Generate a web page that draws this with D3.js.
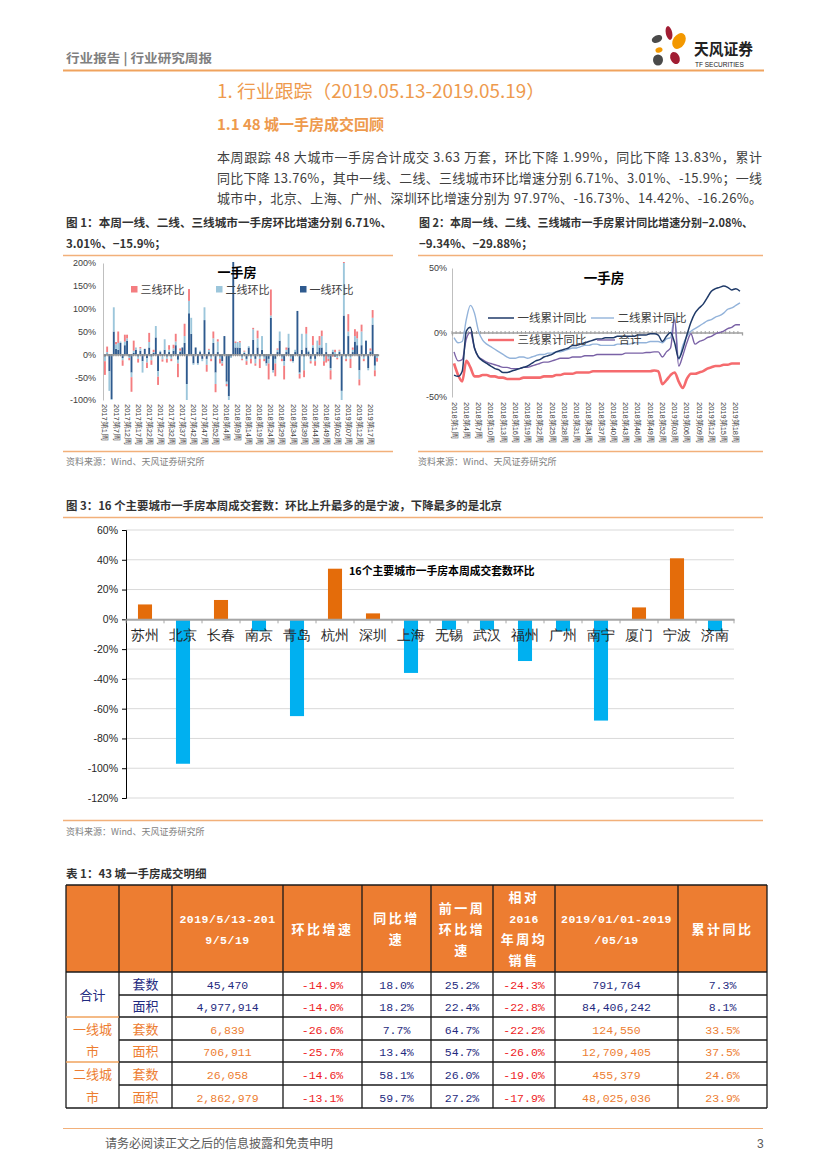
<!DOCTYPE html>
<html><head><meta charset="utf-8">
<script src="https://cdn.jsdelivr.net/npm/d3@7/dist/d3.min.js"></script>
<style>
html,body{margin:0;padding:0;background:#fff;}
svg{display:block;font-family:"Noto Sans CJK SC","Noto Sans",sans-serif;}
</style></head><body>
<svg id="page" width="827" height="1170"></svg>
<script>
// ---------------- DATA ----------------
// Figure 1: weekly WoW growth (%), 2017W1 .. 2019W20
const weeks2017 = [1].concat(d3.range(3, 54));
const weeks2018 = d3.range(1, 53);
const weeks2019 = d3.range(1, 21);
const cats1 = weeks2017.map(w => "2017第" + w + "周")
  .concat(weeks2018.map(w => "2018第" + w + "周"))
  .concat(weeks2019.map(w => "2019第" + String(w).padStart(2, "0") + "周"));
const tickLabels1 = ["2017第1周","2017第7周","2017第12周","2017第17周","2017第22周","2017第27周","2017第32周","2017第37周","2017第42周","2017第47周","2017第52周","2018第4周","2018第9周","2018第14周","2018第19周","2018第24周","2018第29周","2018第34周","2018第39周","2018第44周","2018第49周","2019第02周","2019第07周","2019第12周","2019第17周"];
const tier1Wow = [-5,2,-37,-98,50,12,10,25,-8,20, 30,-5,-40,3,10,-5,8,-15,12,-8, 15,-5,3,37,-37,5,-3,10,-5,5,
  -5,8,20,-12,5,15,25,-65,90,45, -20,15,-20,5,-10,75,-10,5,-5,25, -40,5,-5,-15,40,-60,-92,-5,225,15,
  15,14,-5,3,-10,15,-5,32,-10,15, -5,10,-5,-20,-10,80,-35,-10,5,30, -5,-15,5,15,-5,-15,5,95,-40,10,
  -5,15,5,-10,15,-10,5,15,15,-5, 5,-5,-30,5,-5,-3,5,-80,85,-5, 40,-5,5,28,20,-35,20,-5,30,-30, 5,65,-25,-3];
const tier2Wow = [-10,3,-43,-2,53,10,15,3,-5,8, 5,-3,-10,5,5,-5,5,-25,0,-10, 12,-8,2,25,-12,3,-8,23,-5,5,
  -5,5,8,-8,3,0,15,-35,27,35, -3,0,-3,3,-5,28,-13,5,-5,10, -25,23,-5,-5,0,-5,-8,-3,0,10,
  12,12,-5,3,-5,3,-5,23,-10,20, -5,30,-5,-5,-10,5,-5,-10,5,20, -5,-10,5,30,-5,-3,5,0,-3,35,
  -30,30,3,-5,5,-5,25,5,25,-10, 20,-5,-5,5,5,-5,3,-20,115,-5, 10,-5,5,12,15,-20,30,-5,0,-5, 3,15,-10,-5];
const tier3Wow = [-30,12,0,0,0,5,25,0,-12,15, 8,-5,-32,22,0,-8,3,0,0,-12, 20,-10,5,0,-18,-2,-5,0,-8,10,
  -5,8,17,-30,5,0,27,0,26,0, 0,0,0,0,0,0,-15,2,-5,15, -18,5,-10,-5,0,-5,0,0,0,3,
  0,3,-3,2,-8,0,-10,3,-5,17, -20,0,-5,0,-35,57,0,-28,3,0, -5,-30,5,0,-5,0,0,0,-10,0,
  -15,15,0,-5,20,-10,0,20,12,-10, -18,-5,-20,-5,5,-3,2,0,30,-5, 38,-20,5,15,15,-13,15,-5,0,0, 5,17,-13,-8];

// Figure 2: cumulative YoY (%), 2018W1 .. 2019W19
const cats2 = weeks2018.map(w => "2018第" + w + "周")
  .concat(d3.range(1, 20).map(w => "2019第" + String(w).padStart(2, "0") + "周"));
const tickLabels2 = ["2018第1周","2018第4周","2018第7周","2018第10周","2018第13周","2018第16周","2018第19周","2018第22周","2018第25周","2018第28周","2018第31周","2018第34周","2018第37周","2018第40周","2018第43周","2018第46周","2018第49周","2018第52周","2019第03周","2019第06周","2019第09周","2019第12周","2019第15周","2019第18周"];
const tier1Cum = [-33,-34,-30,1,4,-12,-19,-22,-24,-26, -28,-29,-31,-31,-30,-29,-28,-27,-26,-24,
  -22,-21,-19,-18,-17,-15,-14,-13,-12,-10, -10,-9,-8,-7,-6,-5,-5,-4,-4,-4,
  -3,-3,-3,-3,-3,-2,-2,-2,-1,-1, -2,-7,-3,0,-8,-20,-13,-2,8,15, 19,22,27,32,34,35,36,35,33,34,32];
const tier2Cum = [-4,-8,-7,10,21,15,1,-6,-9,-11, -13,-15,-17,-19,-20,-20,-19,-19,-20,-19,
  -18,-17,-17,-16,-16,-15,-15,-14,-13,-12, -12,-11,-10,-10,-9,-9,-10,-10,-10,-10,
  -9,-9,-9,-9,-8,-8,-8,-8,-7,-7, -7,-8,-5,-4,12,-21,-10,-3,1,3, 5,7,9,10,12,13,15,18,19,21,23];
const tier3Cum = [-24,-33,-38,-22,-27,-34,-34,-33,-33,-34, -34,-35,-35,-36,-36,-36,-36,-35,-35,-35,
  -35,-35,-34,-34,-34,-33,-33,-32,-32,-32, -31,-31,-31,-31,-30,-30,-30,-30,-30,-30,
  -30,-30,-30,-30,-30,-30,-30,-30,-30,-29.5, -30,-40,-37,-33,-31,-38,-43,-36,-32,-32, -31,-30,-28,-27,-26,-26,-25,-25,-24,-24,-24];
const totalCum = [-15,-22,-21,-5,0,-12,-19,-21,-23,-24, -25,-26,-27,-27,-28,-28,-28,-27,-27,-26,
  -25,-24,-23,-23,-22,-21,-20,-20,-20,-19, -19,-19,-18,-18,-18,-17,-17,-17,-17,-17,
  -17,-17,-16,-16,-16,-16,-16,-15.5,-15.5,-15, -15,-19,-15,-12,10,-26,-18,-8,-1,-9, -7,-6,-4,-3,-1,0,1,3,4,6,6];

// Figure 3: 16 cities WoW (%)
const cities = ["苏州","北京","长春","南京","青岛","杭州","深圳","上海","无锡","武汉","福州","广州","南宁","厦门","宁波","济南"];
const cityWow = [10,-97,13,-8,-65,34,4,-36,-7,-7,-28,-8,-68,8,41,-8];
const ticks3 = [60,40,20,0,-20,-40,-60,-80,-100,-120];

// Table 1
const headerLines = [[""],[""],["2019/5/13-201","9/5/19"],["环比增速"],["同比增","速"],["前一周","环比增","速"],["相对","2016","年周均","销售"],["2019/01/01-2019","/05/19"],["累计同比"]];
const groupLabels = [["合计"],["一线城","市"],["二线城","市"]];
const metricLabels = ["套数","面积"];
const weekVol = [45470,4977914,6839,706911,26058,2862979];
const wowT = [-14.9,-14.0,-26.6,-25.7,-14.6,-13.1];
const yoyT = [18.0,18.2,7.7,13.4,58.1,59.7];
const prevWowT = [25.2,22.4,64.7,54.7,26.0,27.2];
const vs2016T = [-24.3,-22.8,-22.2,-26.0,-19.0,-17.9];
const ytdVol = [791764,84406242,124550,12709405,455379,48025036];
const ytdYoy = [7.3,8.1,33.5,37.5,24.6,23.9];

// ---------------- DRAW ----------------
const svg = d3.select("#page");
const ORANGE = "#EE9A4D", RULE = "#F2B07A";
function T(x, y, s, o) {
  o = o || {};
  const t = svg.append("text").attr("x", x).attr("y", y).text(s)
    .attr("font-size", o.size || 12).attr("fill", o.fill || "#333")
    .attr("font-weight", o.weight || "normal").attr("text-anchor", o.anchor || "start");
  if (o.family) t.attr("font-family", o.family);
  if (o.len) t.attr("textLength", o.len).attr("lengthAdjust", "spacingAndGlyphs");
  if (o.ls) t.attr("letter-spacing", o.ls);
  return t;
}
function L(x1, y1, x2, y2, c, w) {
  svg.append("line").attr("x1", x1).attr("y1", y1).attr("x2", x2).attr("y2", y2).attr("stroke", c).attr("stroke-width", w || 1);
}

// header
T(66, 63, "行业报告 | 行业研究周报", {size: 12.5, fill: "#808080", weight: "bold", len: 146});
L(63, 70.5, 764, 70.5, "#F0A35E", 2);
// logo
const petals = [[669,33,3.2,7,-12,"#A11D33"],[679,41,6,8.5,32,"#F39800"],[657,39,5.5,3.6,-25,"#4A4A4A"],
  [659,50,3.6,2.6,-20,"#F39800"],[658,60,5,5.5,0,"#4A4A4A"],[675,58,4.5,6.3,-25,"#A11D33"]];
petals.forEach(p => svg.append("ellipse").attr("cx", p[0]).attr("cy", p[1]).attr("rx", p[2]).attr("ry", p[3])
  .attr("transform", `rotate(${p[4]},${p[0]},${p[1]})`).attr("fill", p[5]));
T(694, 55, "天风证券", {size: 15.5, weight: "bold", fill: "#222", len: 59});
T(695, 66.5, "TF SECURITIES", {size: 6.5, fill: "#222", family: "Liberation Sans"});

// titles
T(217, 98, "1. 行业跟踪（2019.05.13-2019.05.19）", {size: 18, fill: ORANGE, len: 328});
T(217, 130, "1.1 48 城一手房成交回顾", {size: 15, fill: ORANGE, weight: "bold"});
const para = ["本周跟踪 48 大城市一手房合计成交 3.63 万套，环比下降 1.99%，同比下降 13.83%，累计",
  "同比下降 13.76%，其中一线、二线、三线城市环比增速分别 6.71%、3.01%、-15.9%；一线",
  "城市中，北京、上海、广州、深圳环比增速分别为 97.97%、-16.73%、14.42%、-16.26%。"];
para.forEach((s, i) => T(217, 162 + i * 20.5, s, {size: 13, fill: "#404040"}).attr("textLength", 545).attr("lengthAdjust", "spacing"));

// figure titles
T(66, 227, "图 1：本周一线、二线、三线城市一手房环比增速分别 6.71%、", {size: 11.5, weight: "bold", len: 326});
T(66, 248, "3.01%、−15.9%；", {size: 11.5, weight: "bold"});
L(63, 255.5, 393, 255.5, RULE, 1.5);
T(419, 227, "图 2：本周一线、二线、三线城市一手房累计同比增速分别−2.08%、", {size: 11.5, weight: "bold", len: 334});
T(419, 248, "−9.34%、−29.88%；", {size: 11.5, weight: "bold"});
L(418, 255.5, 763, 255.5, RULE, 1.5);
L(63, 451.5, 393, 451.5, RULE, 1.5);
L(418, 451.5, 763, 451.5, RULE, 1.5);
T(66, 465, "资料来源：Wind、天风证券研究所", {size: 9, fill: "#7F7F7F"});
T(418, 465, "资料来源：Wind、天风证券研究所", {size: 9, fill: "#7F7F7F"});

// ---------- Figure 1 ----------
{
  const x = d3.scaleBand().domain(cats1).range([104, 378]).paddingInner(0.15);
  const y = d3.scaleLinear().domain([-100, 200]).range([400, 263]);
  const g = svg.append("g");
  svg.append("clipPath").attr("id", "c1").append("rect").attr("x", 100).attr("y", 262).attr("width", 282).attr("height", 140);
  const rows = cats1.map((c, i) => ({cat: c, t1: tier1Wow[i], t2: tier2Wow[i], t3: tier3Wow[i]}));
  const cols = {t1: "#2E5A8E", t2: "#9CC6DB", t3: "#F47D80"};
  const st = d3.stack().keys(["t1", "t2", "t3"]).offset(d3.stackOffsetDiverging)(rows);
  g.append("g").attr("clip-path", "url(#c1)").selectAll("g").data(st).join("g").attr("fill", d => cols[d.key])
    .selectAll("rect").data(d => d).join("rect")
    .attr("x", d => x(d.data.cat)).attr("width", x.bandwidth())
    .attr("y", d => y(Math.max(d[0], d[1]))).attr("height", d => Math.abs(y(d[0]) - y(d[1])));
  const ya = g.append("g").attr("transform", "translate(103,0)")
    .call(d3.axisLeft(y).tickValues([-100, -50, 0, 50, 100, 150, 200]).tickFormat(d => d + "%").tickSize(0).tickPadding(7));
  ya.select(".domain").attr("stroke", "#BFBFBF");
  ya.selectAll("text").attr("font-size", 9).attr("fill", "#404040").attr("font-family", "Liberation Sans");
  const za = g.append("g").attr("transform", `translate(0,${y(0)})`)
    .call(d3.axisBottom(x).tickValues(cats1).tickSize(2).tickFormat(""));
  za.select(".domain").attr("stroke", "#8C8C8C").attr("stroke-width", 1.3);
  za.selectAll("line").attr("stroke", "#8C8C8C");
  const xa = g.append("g").attr("transform", "translate(0,401)")
    .call(d3.axisBottom(x).tickValues(tickLabels1).tickSize(0).tickPadding(3));
  xa.select(".domain").remove();
  xa.selectAll("text").attr("font-size", 7.5).attr("fill", "#404040")
    .attr("transform", "rotate(90)").attr("text-anchor", "start").attr("x", 3).attr("y", 0).attr("dy", "0.33em");
  T(237, 277, "一手房", {size: 13, weight: "bold", anchor: "middle", fill: "#000"});
  const leg = [["三线环比", "t3", 131], ["二线环比", "t2", 216], ["一线环比", "t1", 300]];
  leg.forEach(l => {
    svg.append("rect").attr("x", l[2]).attr("y", 286).attr("width", 6.5).attr("height", 6.5).attr("fill", cols[l[1]]);
    T(l[2] + 9.5, 293.5, l[0], {size: 11, fill: "#404040"});
  });
}

// ---------- Figure 2 ----------
{
  const x = d3.scaleBand().domain(cats2).range([452, 742]);
  const cx = c => x(c) + x.bandwidth() / 2;
  const y = d3.scaleLinear().domain([-50, 50]).range([397, 268]);
  const g = svg.append("g");
  const ya = g.append("g").attr("transform", "translate(452,0)")
    .call(d3.axisLeft(y).tickValues([-50, 0, 50]).tickFormat(d => d + "%").tickSize(0).tickPadding(5));
  ya.select(".domain").attr("stroke", "#BFBFBF");
  ya.selectAll("text").attr("font-size", 9).attr("fill", "#404040").attr("font-family", "Liberation Sans");
  const za = g.append("g").attr("transform", `translate(0,${y(0)})`)
    .call(d3.axisBottom(x).tickValues(cats2).tickSize(3).tickFormat(""));
  za.select(".domain").attr("stroke", "#A0A0A0").attr("stroke-width", 1.3);
  za.selectAll(".tick line").attr("stroke", "#A0A0A0").attr("transform", "translate(" + (-x.bandwidth() / 2) + ",-1.5)");
  const xa = g.append("g").attr("transform", "translate(0,399)")
    .call(d3.axisBottom(x).tickValues(tickLabels2).tickSize(0).tickPadding(3));
  xa.select(".domain").remove();
  xa.selectAll("text").attr("font-size", 7.5).attr("fill", "#404040")
    .attr("transform", "rotate(90)").attr("text-anchor", "start").attr("x", 3).attr("y", 0).attr("dy", "0.33em");
  const series = [[tier3Cum, "#F56B6E", 2.6], [tier2Cum, "#93B3DA", 1.4], [totalCum, "#7A62A6", 1.4], [tier1Cum, "#1F3A68", 1.5]];
  const line = d3.line().x((d, i) => cx(cats2[i])).y(d => y(d)).curve(d3.curveMonotoneX);
  series.forEach(s => g.append("path").attr("d", line(s[0])).attr("fill", "none").attr("stroke", s[1]).attr("stroke-width", s[2]).attr("stroke-linejoin", "round"));
  T(604, 283, "一手房", {size: 13.5, weight: "bold", anchor: "middle", fill: "#000"});
  const leg = [["一线累计同比", "#1F3A68", 488, 514, 318, 1.5], ["二线累计同比", "#93B3DA", 591, 614, 318, 1.4],
    ["三线累计同比", "#F56B6E", 488, 514, 340, 2.4], ["合计", "#7A62A6", 597, 615, 340, 1.4]];
  leg.forEach(l => {
    L(l[2], l[4], l[3], l[4], l[1], l[5]);
    T(l[3] + 3.5, l[4] + 4.2, l[0], {size: 11.5, fill: "#404040"});
  });
}

// ---------- Figure 3 ----------
T(66, 510, "图 3：16 个主要城市一手房本周成交套数：环比上升最多的是宁波，下降最多的是北京", {size: 11.5, weight: "bold", len: 436});
L(63, 517.5, 763, 517.5, RULE, 1.5);
{
  const x = d3.scaleBand().domain(cities).range([126, 734]).paddingInner(0.63).paddingOuter(0.315);
  const y = d3.scaleLinear().domain([-120, 60]).range([798, 530]);
  const g = svg.append("g");
  g.selectAll("line.grid").data(ticks3).join("line").attr("x1", 126).attr("x2", 734)
    .attr("y1", d => y(d)).attr("y2", d => y(d)).attr("stroke", "#D9D9D9").attr("stroke-width", 1);
  g.selectAll("rect").data(cityWow).join("rect")
    .attr("x", (d, i) => x(cities[i])).attr("width", x.bandwidth())
    .attr("y", d => y(Math.max(0, d))).attr("height", d => Math.abs(y(d) - y(0)))
    .attr("fill", d => d >= 0 ? "#E46C0A" : "#00B0F0");
  const ya = g.append("g").attr("transform", "translate(126,0)")
    .call(d3.axisLeft(y).tickValues(ticks3).tickFormat(d => d + "%").tickSize(4).tickPadding(4));
  ya.select(".domain").attr("stroke", "#000");
  ya.selectAll(".tick line").attr("stroke", "#000");
  ya.selectAll("text").attr("font-size", 10.5).attr("fill", "#262626").attr("font-family", "Liberation Sans");
  const za = g.append("g").attr("transform", `translate(0,${y(0)})`)
    .call(d3.axisBottom(x).tickSize(0).tickPadding(11));
  za.select(".domain").attr("stroke", "#A6A6A6").attr("stroke-width", 2);
  za.selectAll("text").attr("font-size", 13.5).attr("fill", "#262626");
  g.selectAll("line.tk").data(cities.concat(["_end"])).join("line")
    .attr("x1", (c, i) => 126 + i * x.step()).attr("x2", (c, i) => 126 + i * x.step())
    .attr("y1", y(0)).attr("y2", y(0) + 4).attr("stroke", "#A6A6A6");
  T(349, 575, "16个主要城市一手房本周成交套数环比", {size: 10.8, weight: "bold", fill: "#000"});
}
L(63, 820.5, 763, 820.5, RULE, 1.5);
T(66, 835, "资料来源：Wind、天风证券研究所", {size: 9, fill: "#7F7F7F"});

// ---------- Table ----------
T(66, 878, "表 1：43 城一手房成交明细", {size: 11.5, weight: "bold"});
{
  const colX = [66, 119, 172, 283, 362, 431, 493, 555, 678, 767];
  const rowY = [885, 972, 995, 1017, 1040, 1062, 1085, 1108];
  const NAVY = "#1F2B80", RED = "#EE1C25", TOR = "#ED7D31";
  svg.append("rect").attr("x", colX[0]).attr("y", rowY[0]).attr("width", colX[9] - colX[0]).attr("height", rowY[1] - rowY[0]).attr("fill", "#ED7D31");
  headerLines.forEach((lines, c) => {
    const cxm = (colX[c] + colX[c + 1]) / 2;
    const n = lines.length, mid = (rowY[0] + rowY[1]) / 2;
    lines.forEach((s, k) => {
      if (!s) return;
      const yy = mid + (k - (n - 1) / 2) * 21 + 5;
      const cjk = /[\u4e00-\u9fff]/.test(s);
      T(cxm, yy, s, {size: cjk ? 13 : 11.5, weight: "bold", fill: "#fff", anchor: "middle", ls: cjk ? 2.5 : 0.5,
        family: cjk ? null : "Liberation Mono"});
    });
  });
  const fmtN = d3.format(",");
  const fmtP = v => v.toFixed(1) + "%";
  for (let r = 0; r < 6; r++) {
    const grp = Math.floor(r / 2);
    const yc = (rowY[r + 1] + rowY[r + 2]) / 2 + 5;
    const base = grp === 0 ? NAVY : TOR;
    const cells = [[metricLabels[r % 2], base, true], [fmtN(weekVol[r]), base], [fmtP(wowT[r]), RED], [fmtP(yoyT[r]), NAVY],
      [fmtP(prevWowT[r]), NAVY], [fmtP(vs2016T[r]), RED], [fmtN(ytdVol[r]), base], [fmtP(ytdYoy[r]), base]];
    cells.forEach((cl, k) => {
      const cxm = (colX[k + 1] + colX[k + 2]) / 2;
      T(cxm, yc, cl[0], {size: cl[2] ? 13 : 11.5, fill: cl[1], anchor: "middle", family: cl[2] ? null : "Liberation Mono"});
    });
  }
  groupLabels.forEach((lines, gi) => {
    const cxm = (colX[0] + colX[1]) / 2;
    const col = gi === 0 ? NAVY : TOR;
    if (lines.length === 1) T(cxm, rowY[1 + gi * 2 + 1] + 5, lines[0], {size: 13, fill: col, anchor: "middle"});
    else lines.forEach((s, k) => T(cxm, (rowY[1 + gi * 2 + k] + rowY[2 + gi * 2 + k]) / 2 + 5, s, {size: 13, fill: col, anchor: "middle"}));
  });
  const B = "#1A1A1A";
  colX.forEach(x => L(x, rowY[0], x, rowY[7], B, 1.3));
  L(colX[0], rowY[0], colX[9], rowY[0], B, 1.3);
  L(colX[0], rowY[1], colX[9], rowY[1], B, 1.3);
  [2, 4, 6].forEach(i => L(colX[1], rowY[i], colX[9], rowY[i], B, 1.3));
  [3, 5].forEach(i => { L(colX[1], rowY[i], colX[9], rowY[i], B, 1.3); L(colX[0], rowY[i], colX[1], rowY[i], "#F0A35E", 1.3); });
  L(colX[0], rowY[7], colX[9], rowY[7], B, 1.3);
}

// footer
L(63, 1128.5, 763, 1128.5, RULE, 1.2);
T(105, 1148, "请务必阅读正文之后的信息披露和免责申明", {size: 12, fill: "#595959"});
T(757, 1148, "3", {size: 12, fill: "#595959", family: "Liberation Sans"});
</script></body></html>
